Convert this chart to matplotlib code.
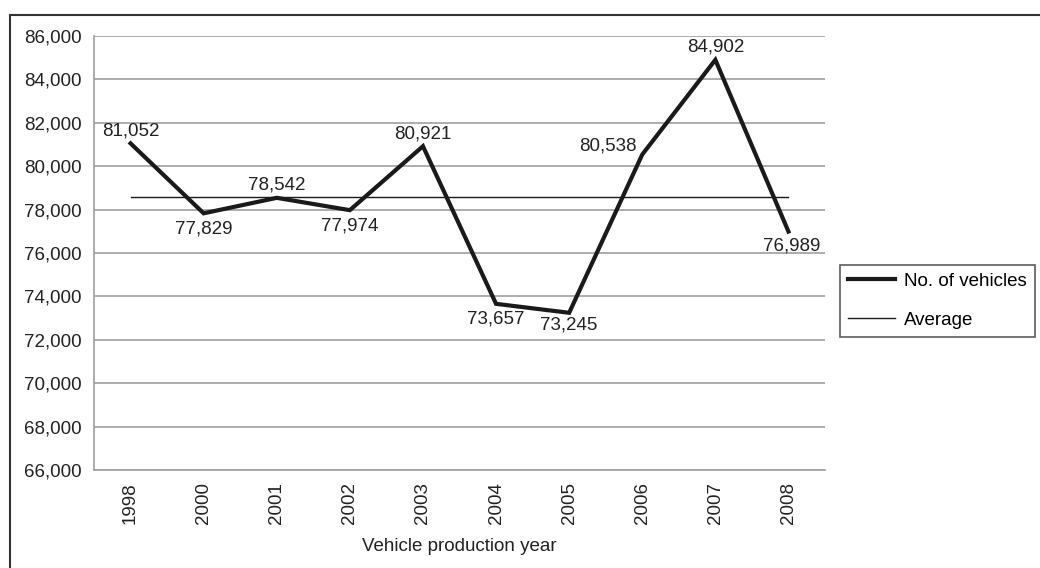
import numpy as np
import matplotlib.pyplot as plt
from matplotlib.patches import Rectangle

plt.rcParams['font.family'] = ['Liberation Sans', 'DejaVu Sans']

years = ['1998', '2000', '2001', '2002', '2003', '2004', '2005', '2006', '2007', '2008']
vehicles = [81052, 77829, 78542, 77974, 80921, 73657, 73245, 80538, 84902, 76989]
average = np.mean(vehicles)

# label offsets (points) and alignment for each data label
lbl_off = [(0, 3), (0, -5), (0, 3), (0, -5), (0, 3), (0, -5), (0, -3), (-4, 6), (0, 3), (2, -4)]
lbl_va = ['bottom', 'top', 'bottom', 'top', 'bottom', 'top', 'top', 'center', 'bottom', 'top']
lbl_ha = ['center'] * 7 + ['right', 'center', 'center']

fig = plt.figure(figsize=(10.4, 5.68), dpi=100)
ax = fig.add_axes([94 / 1040, 1 - 470 / 568, 731 / 1040, 434 / 568])

x = np.arange(len(years))
ax.plot(x, vehicles, color='#1a1a1a', lw=3, label='No. of vehicles', solid_joinstyle='miter')
ax.plot(x, [average] * len(x), color='#1a1a1a', lw=1, label='Average')

for i, v in enumerate(vehicles):
    ax.annotate(f'{v:,}', (i, v), xytext=lbl_off[i], textcoords='offset points',
                ha=lbl_ha[i], va=lbl_va[i], fontsize=13.5, color='#222222')

ax.set_xlim(-0.5, len(years) - 0.5)
ax.set_ylim(66000, 86000)
ax.set_yticks(np.arange(66000, 86001, 2000))
ax.yaxis.set_major_formatter(plt.FuncFormatter(lambda v, p: f'{int(v):,}'))
ax.set_xticks(x)
ax.set_xticklabels(years, rotation=90, fontsize=13.5, color='#222222')
ax.tick_params(axis='y', labelsize=13.5, labelcolor='#222222', length=0, pad=9)
ax.tick_params(axis='x', length=0, pad=9)
ax.grid(axis='y', color='#a0a0a0', lw=1.2)
ax.set_axisbelow(True)
for s in ['top', 'right']:
    ax.spines[s].set_visible(False)
for s in ['left', 'bottom']:
    ax.spines[s].set_color('#a0a0a0')
    ax.spines[s].set_linewidth(1.2)
ax.set_xlabel('Vehicle production year', fontsize=13.5, color='#222222', labelpad=10)

leg = ax.legend(loc='upper left', bbox_to_anchor=((840 - 94) / 731, 1 - (265 - 36) / 434),
                frameon=True, fancybox=False, edgecolor='#333333', fontsize=13.5,
                handlelength=2.5, handletextpad=0.5, borderpad=0.42, labelspacing=1.15,
                borderaxespad=0)
leg.get_frame().set_linewidth(1.2)

# outer frame
fig.patches.append(Rectangle((10 / 1040, -0.01), 1.1, 1 - 15 / 568 + 0.01, transform=fig.transFigure,
                             fill=False, edgecolor='#333333', lw=1.5))

fig.savefig('out.png', dpi=100)
